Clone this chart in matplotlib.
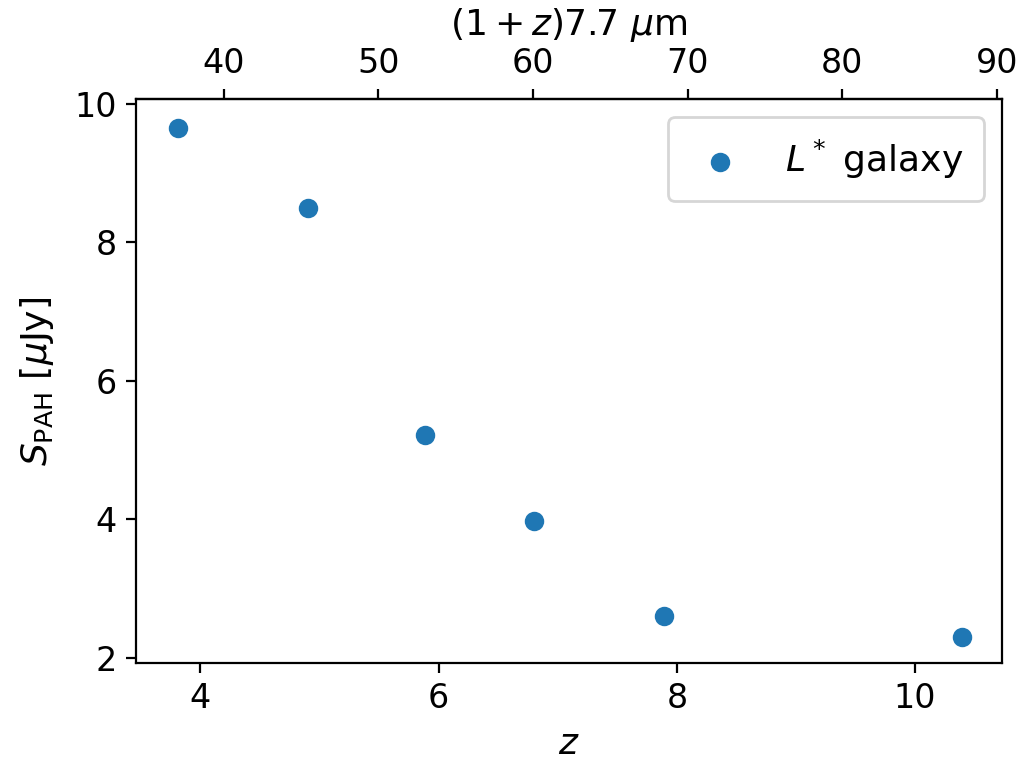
import matplotlib
matplotlib.use("Agg")
import matplotlib.pyplot as plt
import numpy as np

redshift = [3.81, 4.90, 5.89, 6.80, 7.89, 10.39]
s_pah = [9.66, 8.50, 5.21, 3.98, 2.60, 2.30]
series_label = r"$L^*$ galaxy"
rest_wavelength = 7.7

plt.rcParams["font.size"] = 12

fig = plt.figure(figsize=(5.155, 3.805), dpi=200)
ax = fig.add_axes([0.1319, 0.1288, 0.9719 - 0.1319, 0.8699 - 0.1288])
ax.scatter(redshift, s_pah, color="#1f77b4", label=series_label)
ax.set_xlim(3.46, 10.73)
ax.set_ylim(1.923, 10.072)
ax.set_yticks([2, 4, 6, 8, 10])
ax.set_xticks([4, 6, 8, 10])
ax.set_xlabel(r"$z$", fontsize=13)
ax.set_ylabel(r"$S_\mathrm{PAH}$ [$\mu$Jy]", fontsize=13, labelpad=6.5)
ax.legend(loc="upper right", fontsize=13, borderpad=0.57,
          handlelength=1.75, handletextpad=0.93)

sec = ax.secondary_xaxis("top",
                         functions=(lambda z: (1 + z) * rest_wavelength,
                                    lambda w: w / rest_wavelength - 1))
sec.set_xticks([40, 50, 60, 70, 80, 90])
sec.set_xlabel(r"$(1+z)7.7\ \mu$m", fontsize=13)

fig.savefig("out.png", dpi=200)
